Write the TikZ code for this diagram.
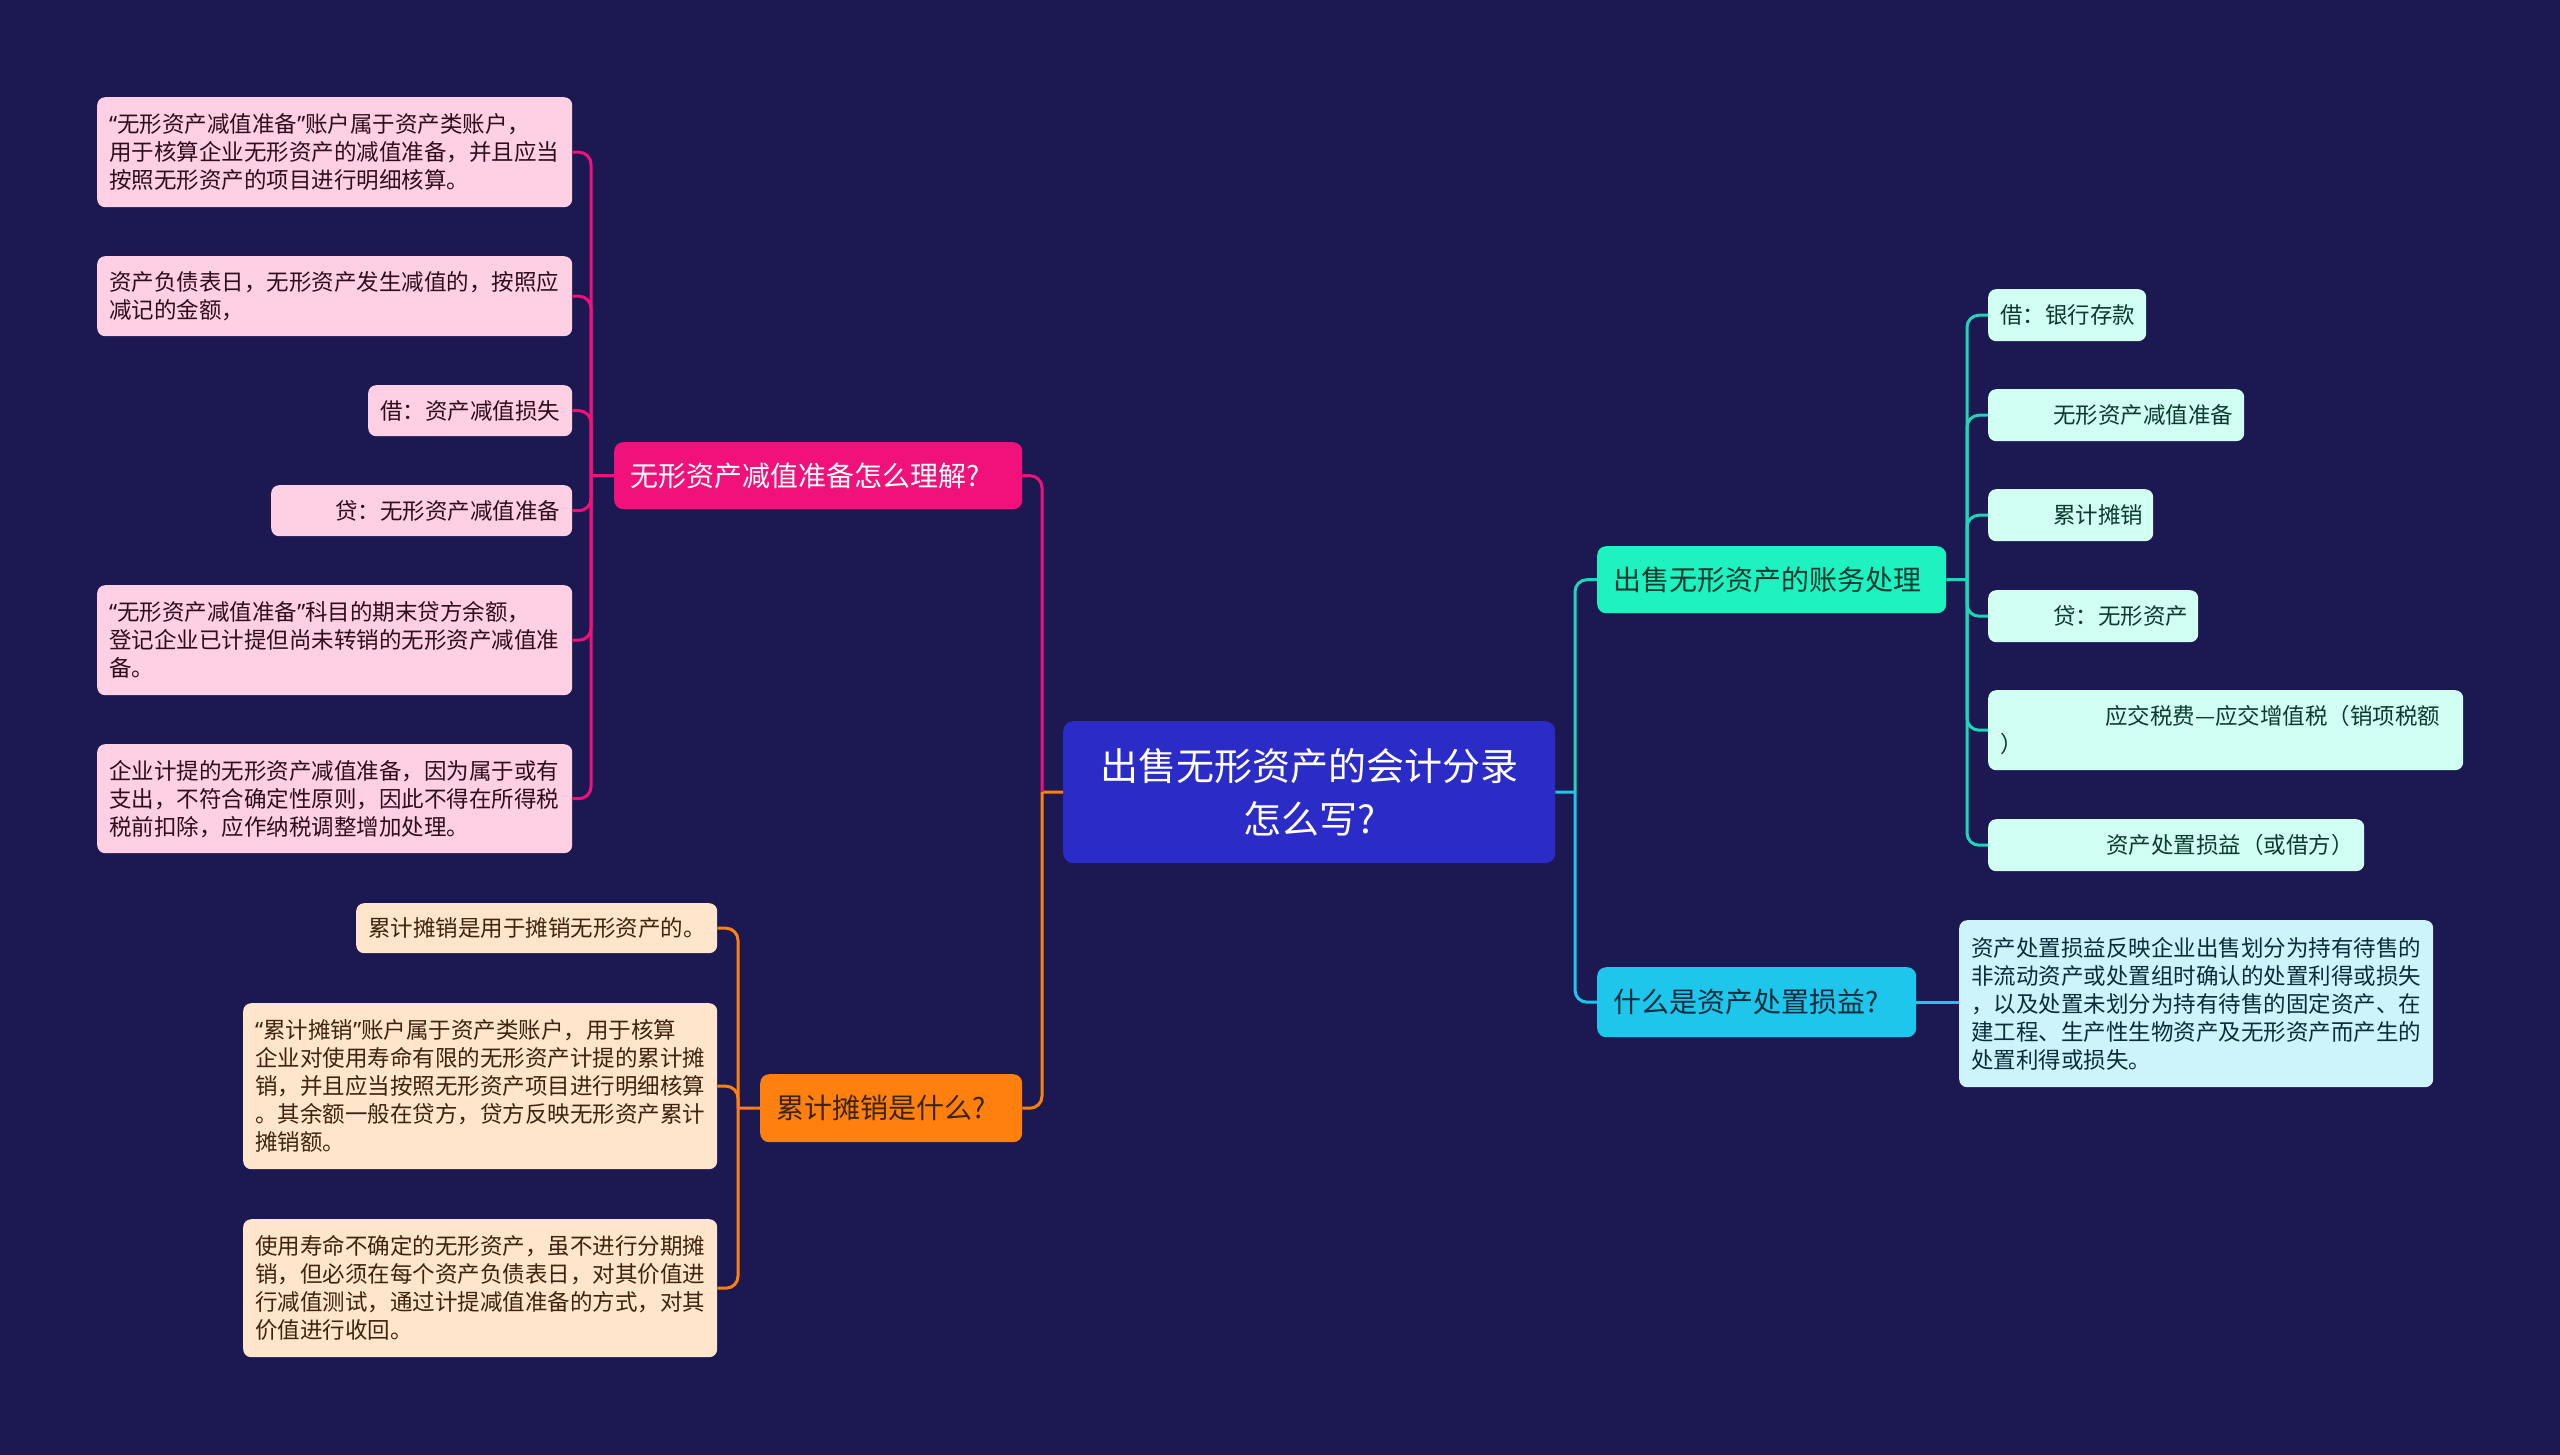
\documentclass[tikz,border=0pt]{standalone}
\usepackage{fontspec}
\setmainfont{Noto Sans CJK SC}
\newfontfamily\latinq{Noto Sans}
\newcommand{\myLq}{{\latinq “}}
\newcommand{\myRq}{{\latinq ”}}
\definecolor{bg}{HTML}{1B1852}
\definecolor{rootfill}{HTML}{2B2BC8}
\definecolor{pinkmain}{HTML}{F0127A}
\definecolor{pinkleaf}{HTML}{FFCFE3}
\definecolor{pinktext}{HTML}{2E0E1E}
\definecolor{orangemain}{HTML}{FF7F0F}
\definecolor{orangeleaf}{HTML}{FFE5CC}
\definecolor{orangetext}{HTML}{3C2410}
\definecolor{tealmain}{HTML}{1DF2C0}
\definecolor{tealline}{HTML}{20D6B8}
\definecolor{tealleaf}{HTML}{D1FFF2}
\definecolor{tealtext}{HTML}{0D3A30}
\definecolor{bluemain}{HTML}{1EC6EC}
\definecolor{blueleaf}{HTML}{CDF4FB}
\definecolor{bluetext}{HTML}{0C2C3C}
\tikzset{
  box/.style={rounded corners=8pt, anchor=north west, inner ysep=0pt, inner xsep=12pt, align=left,
    font=\fontsize{22.5}{28}\selectfont},
  pkleaf/.style={box, fill=pinkleaf, text=pinktext},
  orleaf/.style={box, fill=orangeleaf, text=orangetext},
  tlleaf/.style={box, fill=tealleaf, text=tealtext, minimum height=52pt},
  blleaf/.style={box, fill=blueleaf, text=bluetext},
  mainbox/.style={rounded corners=9pt, anchor=north west, inner ysep=0pt, inner xsep=16pt, align=left,
    font=\fontsize{28}{34}\selectfont},
  conn/.style={line width=3pt},
  rc/.style={rounded corners=12pt},
  pkline/.style={conn, draw=pinkmain},
  orline/.style={conn, draw=orangemain},
  tlline/.style={conn, draw=tealline},
  blline/.style={conn, draw=bluemain},
}
\begin{document}
\begin{tikzpicture}[x=1pt, y=-1pt]
\fill[bg] (0,0) rectangle (2560,1455);
\useasboundingbox (0,0) rectangle (2560,1455);

% root
\node[rounded corners=10pt, anchor=north west, fill=rootfill, text=white, align=center,
  minimum width=492pt, minimum height=142pt, text width=460pt, inner xsep=16pt, inner ysep=0pt,
  font=\fontsize{38}{53}\selectfont] (root) at (1063,721) {出售无形资产的会计分录\\怎么写?};

% main branches
\node[mainbox, fill=pinkmain, text=white, text width=376pt, minimum height=67pt] (pk) at (614,442) {无形资产减值准备怎么理解?};
\node[mainbox, fill=orangemain, text=orangetext, text width=230pt, minimum height=68pt] (or) at (760,1074) {累计摊销是什么?};
\node[mainbox, fill=tealmain, text=tealtext, text width=317pt, minimum height=67pt] (tl) at (1597,546) {出售无形资产的账务处理};
\node[mainbox, fill=bluemain, text=bluetext, text width=287pt, minimum height=70pt] (bl) at (1597,967) {什么是资产处置损益?};

% pink leaves
\node[pkleaf, text width=451pt, minimum height=110pt] (p1) at (97,97) {\myLq 无形资产减值准备\myRq 账户属于资产类账户，\\用于核算企业无形资产的减值准备，并且应当\\按照无形资产的项目进行明细核算。};
\node[pkleaf, text width=451pt, minimum height=80pt] (p2) at (97,256) {资产负债表日，无形资产发生减值的，按照应\\减记的金额，};
\node[pkleaf, text width=180pt, minimum height=51pt, align=right] (p3) at (368,385) {借：资产减值损失};
\node[pkleaf, text width=277pt, minimum height=51pt, align=right] (p4) at (271,485) {贷：无形资产减值准备};
\node[pkleaf, text width=451pt, minimum height=110pt] (p5) at (97,585) {\myLq 无形资产减值准备\myRq 科目的期末贷方余额，\\登记企业已计提但尚未转销的无形资产减值准\\备。};
\node[pkleaf, text width=451pt, minimum height=109pt] (p6) at (97,744) {企业计提的无形资产减值准备，因为属于或有\\支出，不符合确定性原则，因此不得在所得税\\税前扣除，应作纳税调整增加处理。};

% orange leaves
\node[orleaf, text width=337pt, minimum height=50pt, align=right] (o1) at (356,903) {累计摊销是用于摊销无形资产的。};
\node[orleaf, text width=450pt, minimum height=166pt] (o2) at (243,1003) {\myLq 累计摊销\myRq 账户属于资产类账户，用于核算\\企业对使用寿命有限的无形资产计提的累计摊\\销，并且应当按照无形资产项目进行明细核算\\。其余额一般在贷方，贷方反映无形资产累计\\摊销额。};
\node[orleaf, text width=450pt, minimum height=138pt] (o3) at (243,1219) {使用寿命不确定的无形资产，虽不进行分期摊\\销，但必须在每个资产负债表日，对其价值进\\行减值测试，通过计提减值准备的方式，对其\\价值进行收回。};

% teal leaves
\node[tlleaf, text width=134pt] (t1) at (1988,289) {借：银行存款};
\node[tlleaf, text width=232pt] (t2) at (1988,389) {\hspace*{53pt}无形资产减值准备};
\node[tlleaf, text width=141pt] (t3) at (1988,489) {\hspace*{53pt}累计摊销};
\node[tlleaf, text width=186pt] (t4) at (1988,590) {\hspace*{53pt}贷：无形资产};
\node[tlleaf, text width=451pt, minimum height=80pt] (t5) at (1988,690) {\hspace*{105pt}应交税费—应交增值税（销项税额\\）};
\node[tlleaf, text width=352pt] (t6) at (1988,819) {\hspace*{106pt}资产处置损益（或借方）};

% blue leaf
\node[blleaf, text width=450pt, minimum height=167pt] (b1) at (1959,920) {资产处置损益反映企业出售划分为持有待售的\\非流动资产或处置组时确认的处置利得或损失\\，以及处置未划分为持有待售的固定资产、在\\建工程、生产性生物资产及无形资产而产生的\\处置利得或损失。};

% junctions
\coordinate (jL) at (1042,792);
\coordinate (jP) at (591,475.5);
\coordinate (jO) at (738,1108);
\coordinate (jR) at (1575,792);
\coordinate (jT) at (1967,579.5);

% connectors left
\draw[orline] (root.west) -- (jL);
\draw[pkline, rc] (jL) |- (pk.east);
\draw[orline, rc] (jL) |- (or.east);
\draw[pkline] (pk.west) -- (jP);
\foreach \n in {p1,p2,p3,p4,p5,p6} \draw[pkline, rc] (jP) |- (\n.east);
\draw[orline] (or.west) -- (jO);
\foreach \n in {o1,o2,o3} \draw[orline, rc] (jO) |- (\n.east);

% connectors right
\draw[blline] (root.east) -- (jR);
\draw[tlline, rc] (jR) |- (tl.west);
\draw[blline, rc] (jR) |- (bl.west);
\draw[tlline] (tl.east) -- (jT);
\foreach \n in {t1,t2,t3,t4,t5,t6} \draw[tlline, rc] (jT) |- (\n.west);
\draw[blline] (bl.east) -- (b1.west |- bl.east);
\end{tikzpicture}
\end{document}
